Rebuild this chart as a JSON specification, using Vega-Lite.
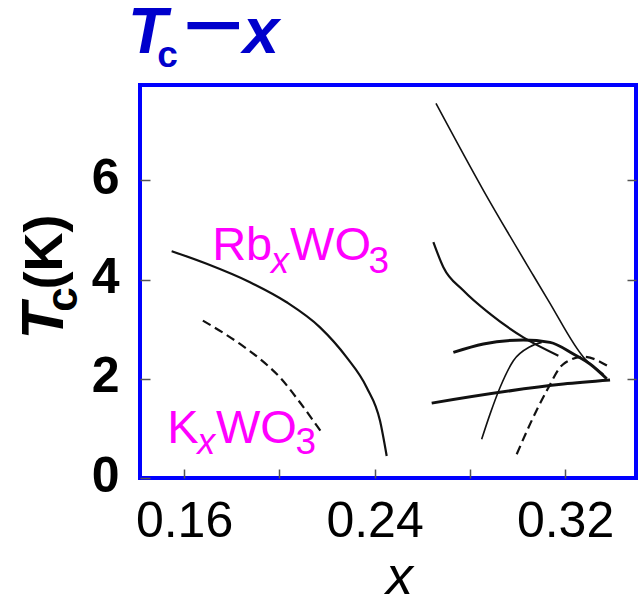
{
  "$schema": "https://vega.github.io/schema/vega-lite/v6.json",
  "autosize": {"type": "none"},
  "padding": {"left": 140, "top": 85, "right": 2, "bottom": 124},
  "width": 496,
  "height": 393,
  "background": "white",
  "config": {
    "view": {"stroke": "#0000ff", "strokeWidth": 4},
    "font": "Liberation Sans"
  },
  "resolve": {"axis": {"y": "independent"}},
  "datasets": {
    "curves": [
      {"series": "Rb", "order": 1, "x": 0.1548, "y": 4.572},
      {"series": "Rb", "order": 2, "x": 0.1695, "y": 4.317},
      {"series": "Rb", "order": 3, "x": 0.1877, "y": 3.945},
      {"series": "Rb", "order": 4, "x": 0.2031, "y": 3.541},
      {"series": "Rb", "order": 5, "x": 0.2171, "y": 3.036},
      {"series": "Rb", "order": 6, "x": 0.2283, "y": 2.43},
      {"series": "Rb", "order": 7, "x": 0.2367, "y": 1.824},
      {"series": "Rb", "order": 8, "x": 0.2423, "y": 1.152},
      {"series": "Rb", "order": 9, "x": 0.2451, "y": 0.444},
      {"series": "K", "order": 1, "x": 0.1679, "y": 3.172},
      {"series": "K", "order": 2, "x": 0.1835, "y": 2.701},
      {"series": "K", "order": 3, "x": 0.1919, "y": 2.398},
      {"series": "K", "order": 4, "x": 0.2003, "y": 2.026},
      {"series": "K", "order": 5, "x": 0.2087, "y": 1.521},
      {"series": "K", "order": 6, "x": 0.2178, "y": 0.915},
      {"series": "A", "order": 1, "x": 0.2658, "y": 7.549},
      {"series": "A", "order": 2, "x": 0.2857, "y": 5.798},
      {"series": "A", "order": 3, "x": 0.3067, "y": 4.081},
      {"series": "A", "order": 4, "x": 0.313, "y": 3.576},
      {"series": "A", "order": 5, "x": 0.3284, "y": 2.398},
      {"series": "A", "order": 6, "x": 0.3361, "y": 2.095},
      {"series": "B", "order": 1, "x": 0.2647, "y": 4.754},
      {"series": "B", "order": 2, "x": 0.2689, "y": 4.248},
      {"series": "B", "order": 3, "x": 0.2773, "y": 3.778},
      {"series": "B", "order": 4, "x": 0.2885, "y": 3.307},
      {"series": "B", "order": 5, "x": 0.3025, "y": 2.834},
      {"series": "B", "order": 6, "x": 0.3172, "y": 2.465},
      {"series": "C", "order": 1, "x": 0.2731, "y": 2.531},
      {"series": "C", "order": 2, "x": 0.2857, "y": 2.701},
      {"series": "C", "order": 3, "x": 0.3025, "y": 2.782},
      {"series": "C", "order": 4, "x": 0.3137, "y": 2.733},
      {"series": "C", "order": 5, "x": 0.3235, "y": 2.499},
      {"series": "C", "order": 6, "x": 0.3305, "y": 2.297},
      {"series": "C", "order": 7, "x": 0.3375, "y": 2.0},
      {"series": "D", "order": 1, "x": 0.285, "y": 0.782},
      {"series": "D", "order": 2, "x": 0.2885, "y": 1.287},
      {"series": "D", "order": 3, "x": 0.2927, "y": 1.824},
      {"series": "D", "order": 4, "x": 0.2983, "y": 2.364},
      {"series": "D", "order": 5, "x": 0.3053, "y": 2.646},
      {"series": "D", "order": 6, "x": 0.3102, "y": 2.733},
      {"series": "E", "order": 1, "x": 0.2997, "y": 0.479},
      {"series": "E", "order": 2, "x": 0.3053, "y": 1.085},
      {"series": "E", "order": 3, "x": 0.3123, "y": 1.758},
      {"series": "E", "order": 4, "x": 0.3193, "y": 2.297},
      {"series": "E", "order": 5, "x": 0.3277, "y": 2.444},
      {"series": "E", "order": 6, "x": 0.3389, "y": 2.228},
      {"series": "F", "order": 1, "x": 0.264, "y": 1.509},
      {"series": "F", "order": 2, "x": 0.3193, "y": 1.893},
      {"series": "F", "order": 3, "x": 0.3389, "y": 1.974}
    ],
    "labels": [
      {"kind": "big", "text": "Rb", "x": 0.1718, "y": 4.384},
      {"kind": "subItalic", "text": "x", "x": 0.1965, "y": 4.141},
      {"kind": "big", "text": "WO", "x": 0.2045, "y": 4.384},
      {"kind": "sub", "text": "3", "x": 0.2375, "y": 4.141},
      {"kind": "big", "text": "K", "x": 0.1529, "y": 0.707},
      {"kind": "subItalic", "text": "x", "x": 0.1655, "y": 0.485},
      {"kind": "big", "text": "WO", "x": 0.1734, "y": 0.707},
      {"kind": "sub", "text": "3", "x": 0.2068, "y": 0.485},
      {"kind": "titleT", "text": "T", "x": 0.1365, "y": 8.566},
      {"kind": "titleSub", "text": "c", "x": 0.1487, "y": 8.283},
      {"kind": "titleDash", "text": "—", "x": 0.162, "y": 8.85},
      {"kind": "titleX", "text": "x", "x": 0.1848, "y": 8.566},
      {"kind": "yT", "text": "T", "x": 0.1092, "y": 2.79},
      {"kind": "ySub", "text": "c", "x": 0.1151, "y": 3.35},
      {"kind": "yK", "text": "(K)", "x": 0.1088, "y": 3.8}
    ]
  },
  "encoding": {
    "x": {
      "field": "x",
      "type": "quantitative",
      "scale": {"domain": [0.1415, 0.3498], "zero": false, "nice": false},
      "axis": {
        "values": [0.16, 0.2, 0.24, 0.28, 0.32],
        "format": ".2f",
        "labelExpr": "indexof(['0.16','0.24','0.32'], datum.label) >= 0 ? datum.label : ''",
        "domain": false,
        "grid": false,
        "ticks": true,
        "tickSize": -9,
        "tickColor": "#555555",
        "tickWidth": 1.5,
        "labelFontSize": 50,
        "labelColor": "black",
        "labelFont": "Liberation Sans",
        "labelPadding": 27,
        "title": "x",
        "titleFont": "Liberation Sans",
        "titleFontSize": 54,
        "titleFontStyle": "italic",
        "titleFontWeight": "normal",
        "titleColor": "black",
        "titlePadding": 4,
        "titleX": 259
      }
    },
    "y": {
      "field": "y",
      "type": "quantitative",
      "scale": {"domain": [0, 7.92], "zero": false, "nice": false},
      "axis": null
    }
  },
  "layer": [
    {
      "data": {"name": "curves"},
      "transform": [{"filter": {"field": "series", "oneOf": ["A", "D"]}}],
      "mark": {"type": "line", "color": "#111111", "strokeWidth": 1.6, "interpolate": "monotone"},
      "encoding": {
        "y": {
          "field": "y",
          "type": "quantitative",
          "scale": {"domain": [0, 7.92], "zero": false, "nice": false},
          "axis": {
            "orient": "left",
            "values": [0, 2, 4, 6],
            "domain": false,
            "grid": false,
            "ticks": true,
            "tickSize": -10,
            "tickColor": "#555555",
            "tickWidth": 1.5,
            "labelFontSize": 50,
            "labelFontWeight": "bold",
            "labelColor": "black",
            "labelFont": "Liberation Sans",
            "labelPadding": 31,
            "labelOffset": -2,
            "title": null
          }
        },
        "detail": {"field": "series"},
        "order": {"field": "order"}
      }
    },
    {
      "data": {"name": "curves"},
      "transform": [{"filter": {"field": "series", "oneOf": ["Rb", "B"]}}],
      "mark": {"type": "line", "color": "#111111", "strokeWidth": 2.2, "interpolate": "monotone"},
      "encoding": {
        "y": {
          "field": "y",
          "type": "quantitative",
          "scale": {"domain": [0, 7.92], "zero": false, "nice": false},
          "axis": {
            "orient": "right",
            "values": [2, 4, 6],
            "domain": false,
            "grid": false,
            "labels": false,
            "ticks": true,
            "tickSize": -9,
            "tickColor": "#555555",
            "tickWidth": 1.5,
            "title": null
          }
        },
        "detail": {"field": "series"},
        "order": {"field": "order"}
      }
    },
    {
      "data": {"name": "curves"},
      "transform": [{"filter": {"field": "series", "oneOf": ["C", "F"]}}],
      "mark": {"type": "line", "color": "#111111", "strokeWidth": 3, "interpolate": "monotone"},
      "encoding": {"detail": {"field": "series"}, "order": {"field": "order"}}
    },
    {
      "data": {"name": "curves"},
      "transform": [{"filter": {"field": "series", "oneOf": ["K", "E"]}}],
      "mark": {"type": "line", "color": "#111111", "strokeWidth": 2.2, "strokeDash": [9, 5], "interpolate": "monotone"},
      "encoding": {"detail": {"field": "series"}, "order": {"field": "order"}}
    },
    {
      "data": {"name": "labels"},
      "transform": [{"filter": "datum.kind == 'big'"}],
      "mark": {"type": "text", "align": "left", "baseline": "alphabetic", "fontSize": 47, "color": "#ff00ff", "font": "Liberation Sans"},
      "encoding": {"text": {"field": "text"}}
    },
    {
      "data": {"name": "labels"},
      "transform": [{"filter": "datum.kind == 'subItalic'"}],
      "mark": {"type": "text", "align": "left", "baseline": "alphabetic", "fontSize": 36, "fontStyle": "italic", "color": "#ff00ff", "font": "Liberation Sans"},
      "encoding": {"text": {"field": "text"}}
    },
    {
      "data": {"name": "labels"},
      "transform": [{"filter": "datum.kind == 'sub'"}],
      "mark": {"type": "text", "align": "left", "baseline": "alphabetic", "fontSize": 37, "color": "#ff00ff", "font": "Liberation Sans"},
      "encoding": {"text": {"field": "text"}}
    },
    {
      "data": {"name": "labels"},
      "transform": [{"filter": "datum.kind == 'titleT'"}],
      "mark": {"type": "text", "align": "left", "baseline": "alphabetic", "fontSize": 64, "fontStyle": "italic", "fontWeight": "bold", "color": "#0000cc", "font": "Liberation Sans"},
      "encoding": {"text": {"field": "text"}}
    },
    {
      "data": {"name": "labels"},
      "transform": [{"filter": "datum.kind == 'titleSub'"}],
      "mark": {"type": "text", "align": "left", "baseline": "alphabetic", "fontSize": 37, "fontWeight": "bold", "color": "#0000cc", "font": "Liberation Sans"},
      "encoding": {"text": {"field": "text"}}
    },
    {
      "data": {"name": "labels"},
      "transform": [{"filter": "datum.kind == 'titleDash'"}],
      "mark": {"type": "text", "align": "left", "baseline": "alphabetic", "fontSize": 49, "fontWeight": "bold", "color": "#0000cc", "stroke": "#0000cc", "strokeWidth": 2.5, "font": "Liberation Sans"},
      "encoding": {"text": {"field": "text"}}
    },
    {
      "data": {"name": "labels"},
      "transform": [{"filter": "datum.kind == 'titleX'"}],
      "mark": {"type": "text", "align": "left", "baseline": "alphabetic", "fontSize": 65, "fontStyle": "italic", "fontWeight": "bold", "color": "#0000cc", "font": "Liberation Sans"},
      "encoding": {"text": {"field": "text"}}
    },
    {
      "data": {"name": "labels"},
      "transform": [{"filter": "datum.kind == 'yT'"}],
      "mark": {"type": "text", "align": "left", "baseline": "alphabetic", "angle": 270, "fontSize": 60, "fontStyle": "italic", "fontWeight": "bold", "color": "black", "font": "Liberation Sans"},
      "encoding": {"text": {"field": "text"}}
    },
    {
      "data": {"name": "labels"},
      "transform": [{"filter": "datum.kind == 'ySub'"}],
      "mark": {"type": "text", "align": "left", "baseline": "alphabetic", "angle": 270, "fontSize": 44, "fontWeight": "bold", "color": "black", "font": "Liberation Sans"},
      "encoding": {"text": {"field": "text"}}
    },
    {
      "data": {"name": "labels"},
      "transform": [{"filter": "datum.kind == 'yK'"}],
      "mark": {"type": "text", "align": "left", "baseline": "alphabetic", "angle": 270, "fontSize": 54, "fontWeight": "bold", "color": "black", "font": "Liberation Sans"},
      "encoding": {"text": {"field": "text"}}
    }
  ]
}
